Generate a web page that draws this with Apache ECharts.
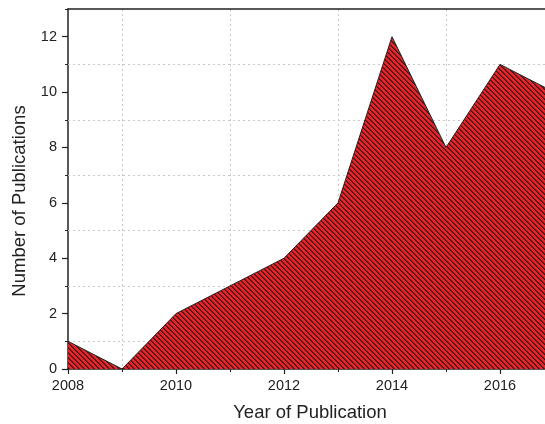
<!DOCTYPE html>
<html>
<head>
<meta charset="utf-8">
<script src="https://cdn.jsdelivr.net/npm/echarts@6/dist/echarts.min.js"></script>
<style>
  html, body { margin: 0; padding: 0; background: #fff; }
  #chart { width: 545px; height: 424px; }
</style>
</head>
<body>
<div id="chart"></div>
<script>
// publications per year
var years = [2008, 2009, 2010, 2011, 2012, 2013, 2014, 2015, 2016, 2017];
var counts = [1, 0, 2, 3, 4, 6, 12, 8, 11, 10];
// dotted horizontal grid lines sit on the odd values
var gridValues = [1, 3, 5, 7, 9, 11];

// red fill with dark "\" hatching, drawn pixel by pixel so it stays crisp
var HATCH = 5;
function makeHatch() {
    var c = document.createElement('canvas');
    c.width = HATCH;
    c.height = HATCH;
    var ctx = c.getContext('2d');
    ctx.fillStyle = '#e8242a';
    ctx.fillRect(0, 0, HATCH, HATCH);
    for (var y = 0; y < HATCH; y++) {
        ctx.fillStyle = '#3a1616';
        ctx.fillRect(y, y, 1, 1);
        ctx.fillStyle = '#7a1a1c';
        ctx.fillRect((y + 1) % HATCH, y, 1, 1);
    }
    return c;
}

var seriesData = [];
for (var i = 0; i < years.length; i++) {
    seriesData.push([years[i], counts[i]]);
}

var font = 'Liberation Sans, Arial, sans-serif';
var ink = '#222';
var dotted = { color: '#c8c8c8', type: [2, 3], width: 1 };
var myChart = echarts.init(document.getElementById('chart'));

var option = {
    animation: false,
    grid: { left: 68, top: 9, bottom: 55, right: -63, outerBoundsMode: 'none', containLabel: false },
    xAxis: [{
        type: 'value',
        min: 2008,
        max: 2018,
        interval: 2,
        axisLine: { onZero: false, lineStyle: { color: ink, width: 1.5 } },
        axisTick: { length: 5, lineStyle: { color: ink, width: 1.2 } },
        minorTick: { show: true, splitNumber: 2, length: 3, lineStyle: { color: ink, width: 1 } },
        minorSplitLine: { show: true, lineStyle: dotted },
        splitLine: { show: false },
        axisLabel: {
            color: ink, fontSize: 14.5, fontFamily: font, margin: 9,
            formatter: function (v) { return String(v); }
        }
    }, {
        // top frame line
        type: 'value',
        position: 'top',
        min: 2008,
        max: 2018,
        axisLine: { show: true, onZero: false, lineStyle: { color: ink, width: 1.5 } },
        axisTick: { show: false },
        axisLabel: { show: false },
        splitLine: { show: false }
    }],
    yAxis: [{
        type: 'value',
        min: 0,
        max: 13,
        interval: 2,
        axisLine: { show: true, onZero: false, lineStyle: { color: ink, width: 1.5 } },
        axisTick: { show: true, length: 6, lineStyle: { color: ink, width: 1.2 } },
        splitLine: { show: false },
        axisLabel: { color: ink, fontSize: 14.5, fontFamily: font, margin: 11, showMaxLabel: false }
    }, {
        // minor ticks only
        type: 'value',
        position: 'left',
        min: 0,
        max: 13,
        interval: 1,
        axisLine: { show: false, onZero: false },
        axisTick: { show: true, length: 3, lineStyle: { color: ink, width: 1 } },
        splitLine: { show: false },
        axisLabel: { show: false }
    }],
    graphic: [{
        type: 'text',
        x: 310,
        y: 413,
        style: { text: 'Year of Publication', font: '18.5px ' + font, fill: ink, textAlign: 'center', textVerticalAlign: 'middle' }
    }, {
        type: 'text',
        x: 20,
        y: 201,
        rotation: Math.PI / 2,
        style: { text: 'Number of Publications', font: '18.5px ' + font, fill: ink, textAlign: 'center', textVerticalAlign: 'middle' }
    }],
    series: [{
        // holds the horizontal grid lines, drawn under the area
        type: 'line',
        z: 1,
        data: [],
        silent: true,
        markLine: {
            z: 1,
            silent: true,
            symbol: 'none',
            label: { show: false },
            lineStyle: dotted,
            data: gridValues.map(function (v) { return { yAxis: v }; })
        }
    }, {
        type: 'line',
        z: 3,
        data: seriesData,
        symbol: 'none',
        lineStyle: { color: ink, width: 1 },
        areaStyle: { color: { image: makeHatch(), repeat: 'repeat' }, opacity: 1 }
    }]
};

myChart.setOption(option);
</script>
</body>
</html>
